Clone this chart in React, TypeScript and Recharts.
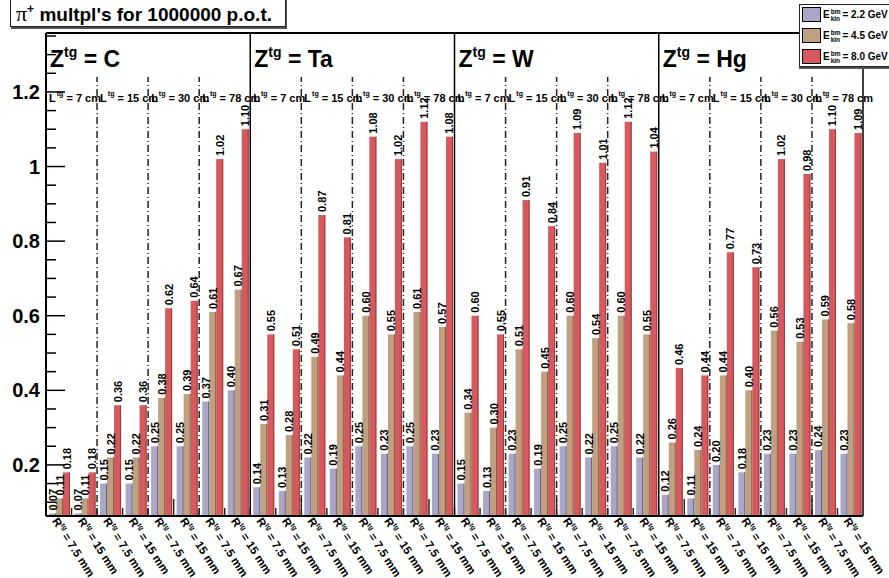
import React from "react";
import { BarChart, Bar, XAxis, YAxis, ReferenceLine, ReferenceArea, LabelList } from "recharts";

const FONT = "'Liberation Sans', Arial, Helvetica, sans-serif";

const targets = ["C", "Ta", "W", "Hg"];
const lengths = ["7", "15", "30", "78"];
const radii = ["7.5", "15"];
const energies = ["2.2", "4.5", "8.0"];

// pi+ multiplicities, ordered target -> length -> radius
const e22 = [
  0.07, 0.07, 0.15, 0.15, 0.25, 0.25, 0.37, 0.4,
  0.14, 0.13, 0.22, 0.19, 0.25, 0.23, 0.25, 0.23,
  0.15, 0.13, 0.23, 0.19, 0.25, 0.22, 0.25, 0.22,
  0.12, 0.11, 0.2, 0.18, 0.23, 0.23, 0.24, 0.23,
];
const e45 = [
  0.11, 0.11, 0.22, 0.22, 0.38, 0.39, 0.61, 0.67,
  0.31, 0.28, 0.49, 0.44, 0.6, 0.55, 0.61, 0.57,
  0.34, 0.3, 0.51, 0.45, 0.6, 0.54, 0.6, 0.55,
  0.26, 0.24, 0.44, 0.4, 0.56, 0.53, 0.59, 0.58,
];
const e80 = [
  0.18, 0.18, 0.36, 0.36, 0.62, 0.64, 1.02, 1.1,
  0.55, 0.51, 0.87, 0.81, 1.08, 1.02, 1.12, 1.08,
  0.6, 0.55, 0.91, 0.84, 1.09, 1.01, 1.12, 1.04,
  0.46, 0.44, 0.77, 0.73, 1.02, 0.98, 1.1, 1.09,
];

const yLabels = [0.2, 0.4, 0.6, 0.8, 1, 1.2];

const Y_MIN = 0.063;
const Y_MAX = 1.358;
const PX = (Y_MAX - Y_MIN) / 483; // value units per pixel of plot height

const colors = ["#aaa6c6", "#c0a080", "#d45a5e"];
const edges = ["#5f5a8c", "#7d6249", "#a0363a"];
const keys = ["e22", "e45", "e80"];

const rows: any[] = [];
targets.forEach((t, ti) =>
  lengths.forEach((l, li) =>
    radii.forEach((r, ri) => {
      const i = ti * 8 + li * 2 + ri;
      rows.push({ key: `${t}|${l}|${r}`, e22: e22[i], e45: e45[i], e80: e80[i] });
    })
  )
);
const NBINS = rows.length;

const yTicks: number[] = [];
for (let k = 2; k <= 27; k++) yTicks.push(Math.round(k * 5) / 100);

function YTick(props: any) {
  const { x, y, payload } = props;
  const v = payload.value;
  const major = yLabels.some((m) => Math.abs(m - v) < 1e-6);
  return (
    <g>
      <line x1={x} x2={x + (major ? 19 : 10)} y1={y} y2={y} stroke="#000" strokeWidth={1.5} />
      {major && (
        <text x={x - 6} y={y + 7} textAnchor="end" fontSize={20} fontWeight="bold" fontFamily={FONT} fill="#000">
          {String(Math.round(v * 10) / 10)}
        </text>
      )}
    </g>
  );
}

function RTick(props: any) {
  const { x, y, payload } = props;
  const r = String(payload.value).split("|")[2];
  return (
    <text
      transform={`translate(${x - 7},${y + 5}) rotate(57)`}
      fontSize={11.5}
      fontWeight="bold"
      fontFamily={FONT}
      fill="#000"
    >
      R
      <tspan dy={-5} fontSize={7}>tg</tspan>
      <tspan dy={5}>{` = ${r} mm`}</tspan>
    </text>
  );
}

function ValueLabel(props: any) {
  const { x, y, width, value } = props;
  const cx = Number(x) + Number(width) / 2;
  return (
    <text
      transform={`translate(${cx + 4},${Number(y) - 3}) rotate(-90)`}
      fontSize={11}
      fontWeight="bold"
      fontFamily={FONT}
      fill="#000"
    >
      {Number(value).toFixed(2)}
    </text>
  );
}

function TargetLabel(props: any) {
  const { viewBox, target } = props;
  const { x, y, width } = viewBox;
  return (
    <g fontFamily={FONT} fontWeight="bold" fill="#000">
      <text x={x + 4} y={y + 34} fontSize={23}>
        Z
        <tspan dy={-10} fontSize={14}>tg</tspan>
        <tspan dy={10}>{` = ${target}`}</tspan>
      </text>
      {lengths.map((l, li) => (
        <text key={l} x={x + (li * width) / 4 + 3} y={y + 69} fontSize={11}>
          L
          <tspan dy={-6} dx={1} fontSize={7}>tg</tspan>
          <tspan dy={6}>{` = ${l} cm`}</tspan>
        </text>
      ))}
    </g>
  );
}

const makeShape = (fill: string, edge: string) => (props: any) => {
  const { x, y, width, height } = props;
  if (!height || height <= 0) return <g />;
  return (
    <g>
      <rect x={x} y={y} width={width} height={height} fill={fill} />
      <rect x={x + width - 1} y={y} width={1} height={height} fill={edge} />
    </g>
  );
};

export default function App() {
  return (
    <div style={{ position: "absolute", left: 0, top: 0, width: 889, height: 578, overflow: "hidden", background: "#fff" }}>
      <BarChart
        width={889}
        height={578}
        data={rows}
        margin={{ top: 33, right: 26, left: 0, bottom: 0 }}
        barCategoryGap={3}
        barGap={0}
      >
        <XAxis
          dataKey="key"
          interval={0}
          height={62}
          tickSize={0}
          tickMargin={0}
          tickLine={false}
          axisLine={{ stroke: "#000", strokeWidth: 2 }}
          tick={<RTick />}
        />
        <YAxis
          width={46}
          domain={[Y_MIN, Y_MAX]}
          allowDataOverflow
          ticks={yTicks}
          interval={0}
          tickSize={0}
          tickMargin={0}
          tickLine={false}
          axisLine={{ stroke: "#000", strokeWidth: 2 }}
          tick={<YTick />}
        />
        {targets.map((t, ti) => (
          <ReferenceArea
            key={t}
            x1={rows[ti * 8].key}
            x2={rows[ti * 8 + 7].key}
            y1={Y_MIN}
            y2={Y_MAX}
            fillOpacity={0}
            strokeOpacity={0}
            ifOverflow="visible"
            label={<TargetLabel target={t} />}
          />
        ))}
        {/* bin-edge ticks on the bottom axis, longer every 5th edge */}
        {rows.slice(0, NBINS - 1).map((row, i) => (
          <ReferenceLine
            key={`e${row.key}`}
            segment={[{ x: row.key, y: Y_MIN }, { x: row.key, y: Y_MIN + ((i + 1) % 5 === 0 ? 17 : 8) * PX }]}
            position="end"
            stroke="#222"
            strokeWidth={1.5}
            ifOverflow="visible"
          />
        ))}
        {/* dash-dot separators between target lengths */}
        {rows
          .filter((_, i) => i % 2 === 1 && i % 8 !== 7)
          .map((row) => (
            <ReferenceLine
              key={`l${row.key}`}
              segment={[{ x: row.key, y: Y_MIN }, { x: row.key, y: 1.24 }]}
              position="end"
              stroke="#222"
              strokeWidth={1.5}
              strokeDasharray="7 3 1 3"
              ifOverflow="visible"
            />
          ))}
        {/* solid separators between targets and right frame */}
        {rows
          .filter((_, i) => i % 8 === 7)
          .map((row) => (
            <ReferenceLine key={`t${row.key}`} x={row.key} position="end" stroke="#000" strokeWidth={1.5} ifOverflow="visible" />
          ))}
        <ReferenceLine y={Y_MAX} stroke="#000" strokeWidth={2} ifOverflow="visible" />
        {keys.map((k, i) => (
          <Bar
            key={k}
            dataKey={k}
            fill={colors[i]}
            isAnimationActive={false}
            shape={makeShape(colors[i], edges[i])}
          >
            <LabelList dataKey={k} content={<ValueLabel />} />
          </Bar>
        ))}
      </BarChart>

      <div
        style={{
          position: "absolute",
          left: 10,
          top: -2,
          width: 276,
          height: 29,
          boxSizing: "border-box",
          paddingLeft: 5,
          border: "1px solid #222",
          boxShadow: "1px 2px 0 #555",
          background: "#fff",
          fontFamily: FONT,
          fontWeight: "bold",
          fontSize: 19,
          lineHeight: "30px",
          whiteSpace: "nowrap",
        }}
      >
        <span style={{ fontFamily: "'Liberation Serif', 'DejaVu Serif', serif", fontWeight: "normal", fontSize: 22 }}>π</span>
        <sup style={{ fontSize: 12, verticalAlign: "8px", lineHeight: 0 }}>+</sup> multpl's for 1000000 p.o.t.
      </div>

      <div
        style={{
          position: "absolute",
          left: 799,
          top: 4,
          width: 96,
          height: 61,
          border: "1px solid #222",
          boxShadow: "0 2px 0 #555",
          background: "#fff",
          fontFamily: FONT,
          fontWeight: "bold",
          color: "#000",
        }}
      >
        {energies.map((e, i) => (
          <div key={e} style={{ position: "absolute", left: 2, top: 2 + i * 21, display: "flex", alignItems: "center", height: 15 }}>
            <div style={{ width: 17, height: 13, background: colors[i], border: "1px solid #000" }} />
            <span style={{ marginLeft: 2, fontSize: 10 }}>E</span>
            <span style={{ display: "inline-flex", flexDirection: "column", fontSize: 6.5, lineHeight: "7px", marginLeft: 1 }}>
              <span>bm</span>
              <span>kin</span>
            </span>
            <span style={{ fontSize: 10, marginLeft: 2, whiteSpace: "nowrap" }}>{`= ${e} GeV`}</span>
          </div>
        ))}
      </div>
    </div>
  );
}
